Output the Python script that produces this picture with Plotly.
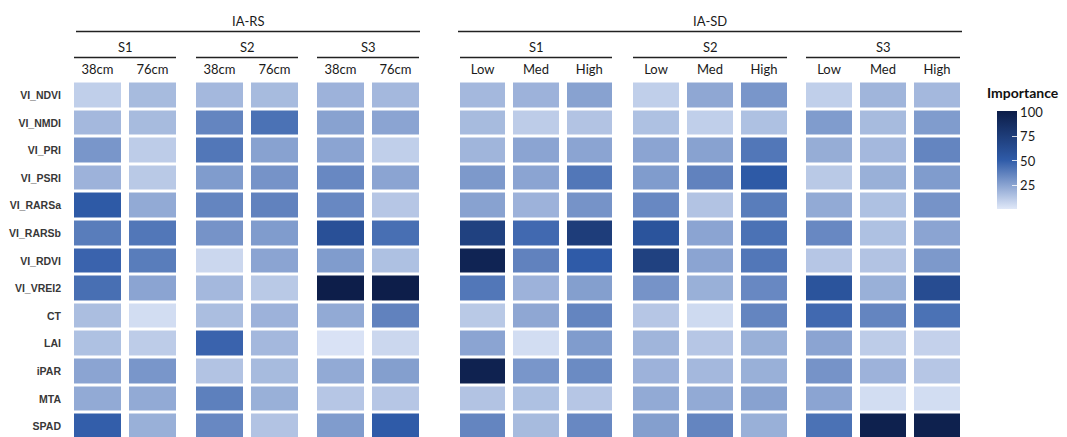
import plotly.graph_objects as go

W, H = 1067, 437

# Predictor rows (top to bottom)
predictors = ["VI_NDVI", "VI_NMDI", "VI_PRI", "VI_PSRI", "VI_RARSa", "VI_RARSb",
              "VI_RDVI", "VI_VREI2", "CT", "LAI", "iPAR", "MTA", "SPAD"]

# Column labels
rs_levels = ["38cm", "76cm"]
sd_levels = ["Low", "Med", "High"]
stages = ["S1", "S2", "S3"]

# Importance values, one list per predictor row: [col1, col2, (col3)]
# IA-RS: row spacing
ia_rs_s1 = [[10, 17], [18, 17], [30, 11], [20, 12], [52, 23], [39, 41], [48, 39],
            [44, 25], [16, 5], [15, 11], [25, 30], [23, 23], [50, 21]]
ia_rs_s2 = [[18, 17], [36, 43], [41, 26], [28, 31], [36, 37], [31, 28], [7, 25],
            [18, 12], [16, 20], [48, 18], [14, 17], [38, 21], [35, 14]]
ia_rs_s3 = [[20, 18], [26, 25], [25, 10], [35, 25], [35, 13], [60, 44], [28, 15],
            [100, 100], [23, 37], [3, 7], [23, 27], [13, 13], [28, 51]]
# IA-SD: seeding density
ia_sd_s1 = [[18, 20, 26], [17, 11, 14], [19, 25, 25], [29, 25, 41], [26, 20, 31],
            [72, 46, 75], [95, 37, 51], [41, 20, 27], [12, 24, 36], [25, 5, 28],
            [97, 30, 34], [14, 15, 13], [36, 17, 35]]
ia_sd_s2 = [[10, 24, 30], [15, 10, 15], [25, 26, 41], [28, 37, 52], [35, 14, 39],
            [57, 25, 43], [72, 25, 41], [31, 21, 35], [13, 6, 36], [19, 13, 21],
            [20, 18, 21], [23, 23, 26], [27, 36, 21]]
ia_sd_s3 = [[10, 19, 18], [28, 17, 28], [22, 18, 36], [12, 21, 28], [23, 15, 31],
            [35, 15, 25], [13, 14, 29], [57, 21, 63], [46, 36, 43], [25, 11, 9],
            [31, 20, 13], [25, 5, 5], [43, 98, 98]]

panels = [
    ("IA-RS", "S1", rs_levels, ia_rs_s1, (70, 180)),
    ("IA-RS", "S2", rs_levels, ia_rs_s2, (192, 302)),
    ("IA-RS", "S3", rs_levels, ia_rs_s3, (313, 423)),
    ("IA-SD", "S1", sd_levels, ia_sd_s1, (456, 616)),
    ("IA-SD", "S2", sd_levels, ia_sd_s2, (629, 791)),
    ("IA-SD", "S3", sd_levels, ia_sd_s3, (802, 964)),
]

colorscale = [[0.0, "#e0e8f8"], [0.5, "#2f5ba8"], [1.0, "#0c1d48"]]

HEAD_FONT = "Lato, 'Open Sans', sans-serif"
ROW_FONT = "'Liberation Sans', Arial, sans-serif"
INK = "#1a1a1a"

def px(x):
    return x / W

def py(y):
    return 1 - y / H

fig = go.Figure()
layout = dict(
    width=W, height=H, margin=dict(l=0, r=0, t=0, b=0),
    paper_bgcolor="white", plot_bgcolor="white", showlegend=False,
    coloraxis=dict(
        colorscale=colorscale, cmin=1, cmax=101,
        colorbar=dict(
            x=px(997), xanchor="left", xpad=0,
            y=py(160), yanchor="middle", ypad=0,
            len=98, lenmode="pixels", thickness=20, outlinewidth=0,
            tickvals=[25, 50, 75, 100], ticks="inside", ticklen=5,
            tickcolor="rgba(255,255,255,0.8)", tickwidth=1,
            tickfont=dict(family=HEAD_FONT, size=13, color=INK),
        ),
    ),
)

n_rows = len(predictors)
for i, (group, stage, levels, values, (x0, x1)) in enumerate(panels):
    ax = "" if i == 0 else str(i + 1)
    fig.add_trace(go.Heatmap(
        z=values, x=list(range(len(levels))), y=list(range(n_rows)),
        coloraxis="coloraxis", xgap=8, ygap=3,
        xaxis="x" + ax, yaxis="y",
        hovertemplate=f"{group} {stage}<br>%{{customdata}}<extra></extra>",
        customdata=[[f"{p} · {lv}: {v}" for lv, v in zip(levels, row)]
                    for p, row in zip(predictors, values)],
    ))
    layout["xaxis" + ax] = dict(
        domain=[px(x0), px(x1)], anchor="y", side="top",
        range=[-0.5, len(levels) - 0.5],
        tickvals=list(range(len(levels))), ticktext=levels,
        ticks="", showgrid=False, zeroline=False, showline=False,
        tickfont=dict(family=HEAD_FONT, size=13, color=INK),
        ticklabelstandoff=4, fixedrange=True,
    )

layout["yaxis"] = dict(
    domain=[0, py(81.5)], anchor="x",
    range=[12.5 - 3.3 / 27.6, -0.5],
    tickvals=list(range(n_rows)), ticktext=predictors,
    ticks="", showgrid=False, zeroline=False, showline=False,
    tickfont=dict(family=ROW_FONT, size=10.5, color="#383838", weight="bold"),
    ticklabelstandoff=8, fixedrange=True,
)

# Group / stage header labels with underline rules
annotations = []
shapes = []
def header(text, xa, xb, y_text, y_line):
    annotations.append(dict(
        text=text, x=px((xa + xb) / 2), y=py(y_text), xref="paper", yref="paper",
        xanchor="center", yanchor="middle", showarrow=False,
        font=dict(family=HEAD_FONT, size=13, color=INK),
    ))
    shapes.append(dict(
        type="line", xref="paper", yref="paper",
        x0=px(xa), x1=px(xb), y0=py(y_line), y1=py(y_line),
        line=dict(color="#222222", width=1.6),
    ))

header("IA-RS", 76, 420, 21, 31.5)
header("IA-SD", 458, 962, 21, 31.5)
for group, stage, levels, values, (x0, x1) in panels:
    header(stage, x0 + 4, x1 - 4, 47, 57.5)

annotations.append(dict(
    text="<b>Importance</b>", x=px(985), y=py(92), xref="paper", yref="paper",
    xanchor="left", yanchor="middle", showarrow=False,
    font=dict(family=HEAD_FONT, size=14, color="#111111"),
))

layout["annotations"] = annotations
layout["shapes"] = shapes
fig.update_layout(**layout)

fig.write_html("out.html")
